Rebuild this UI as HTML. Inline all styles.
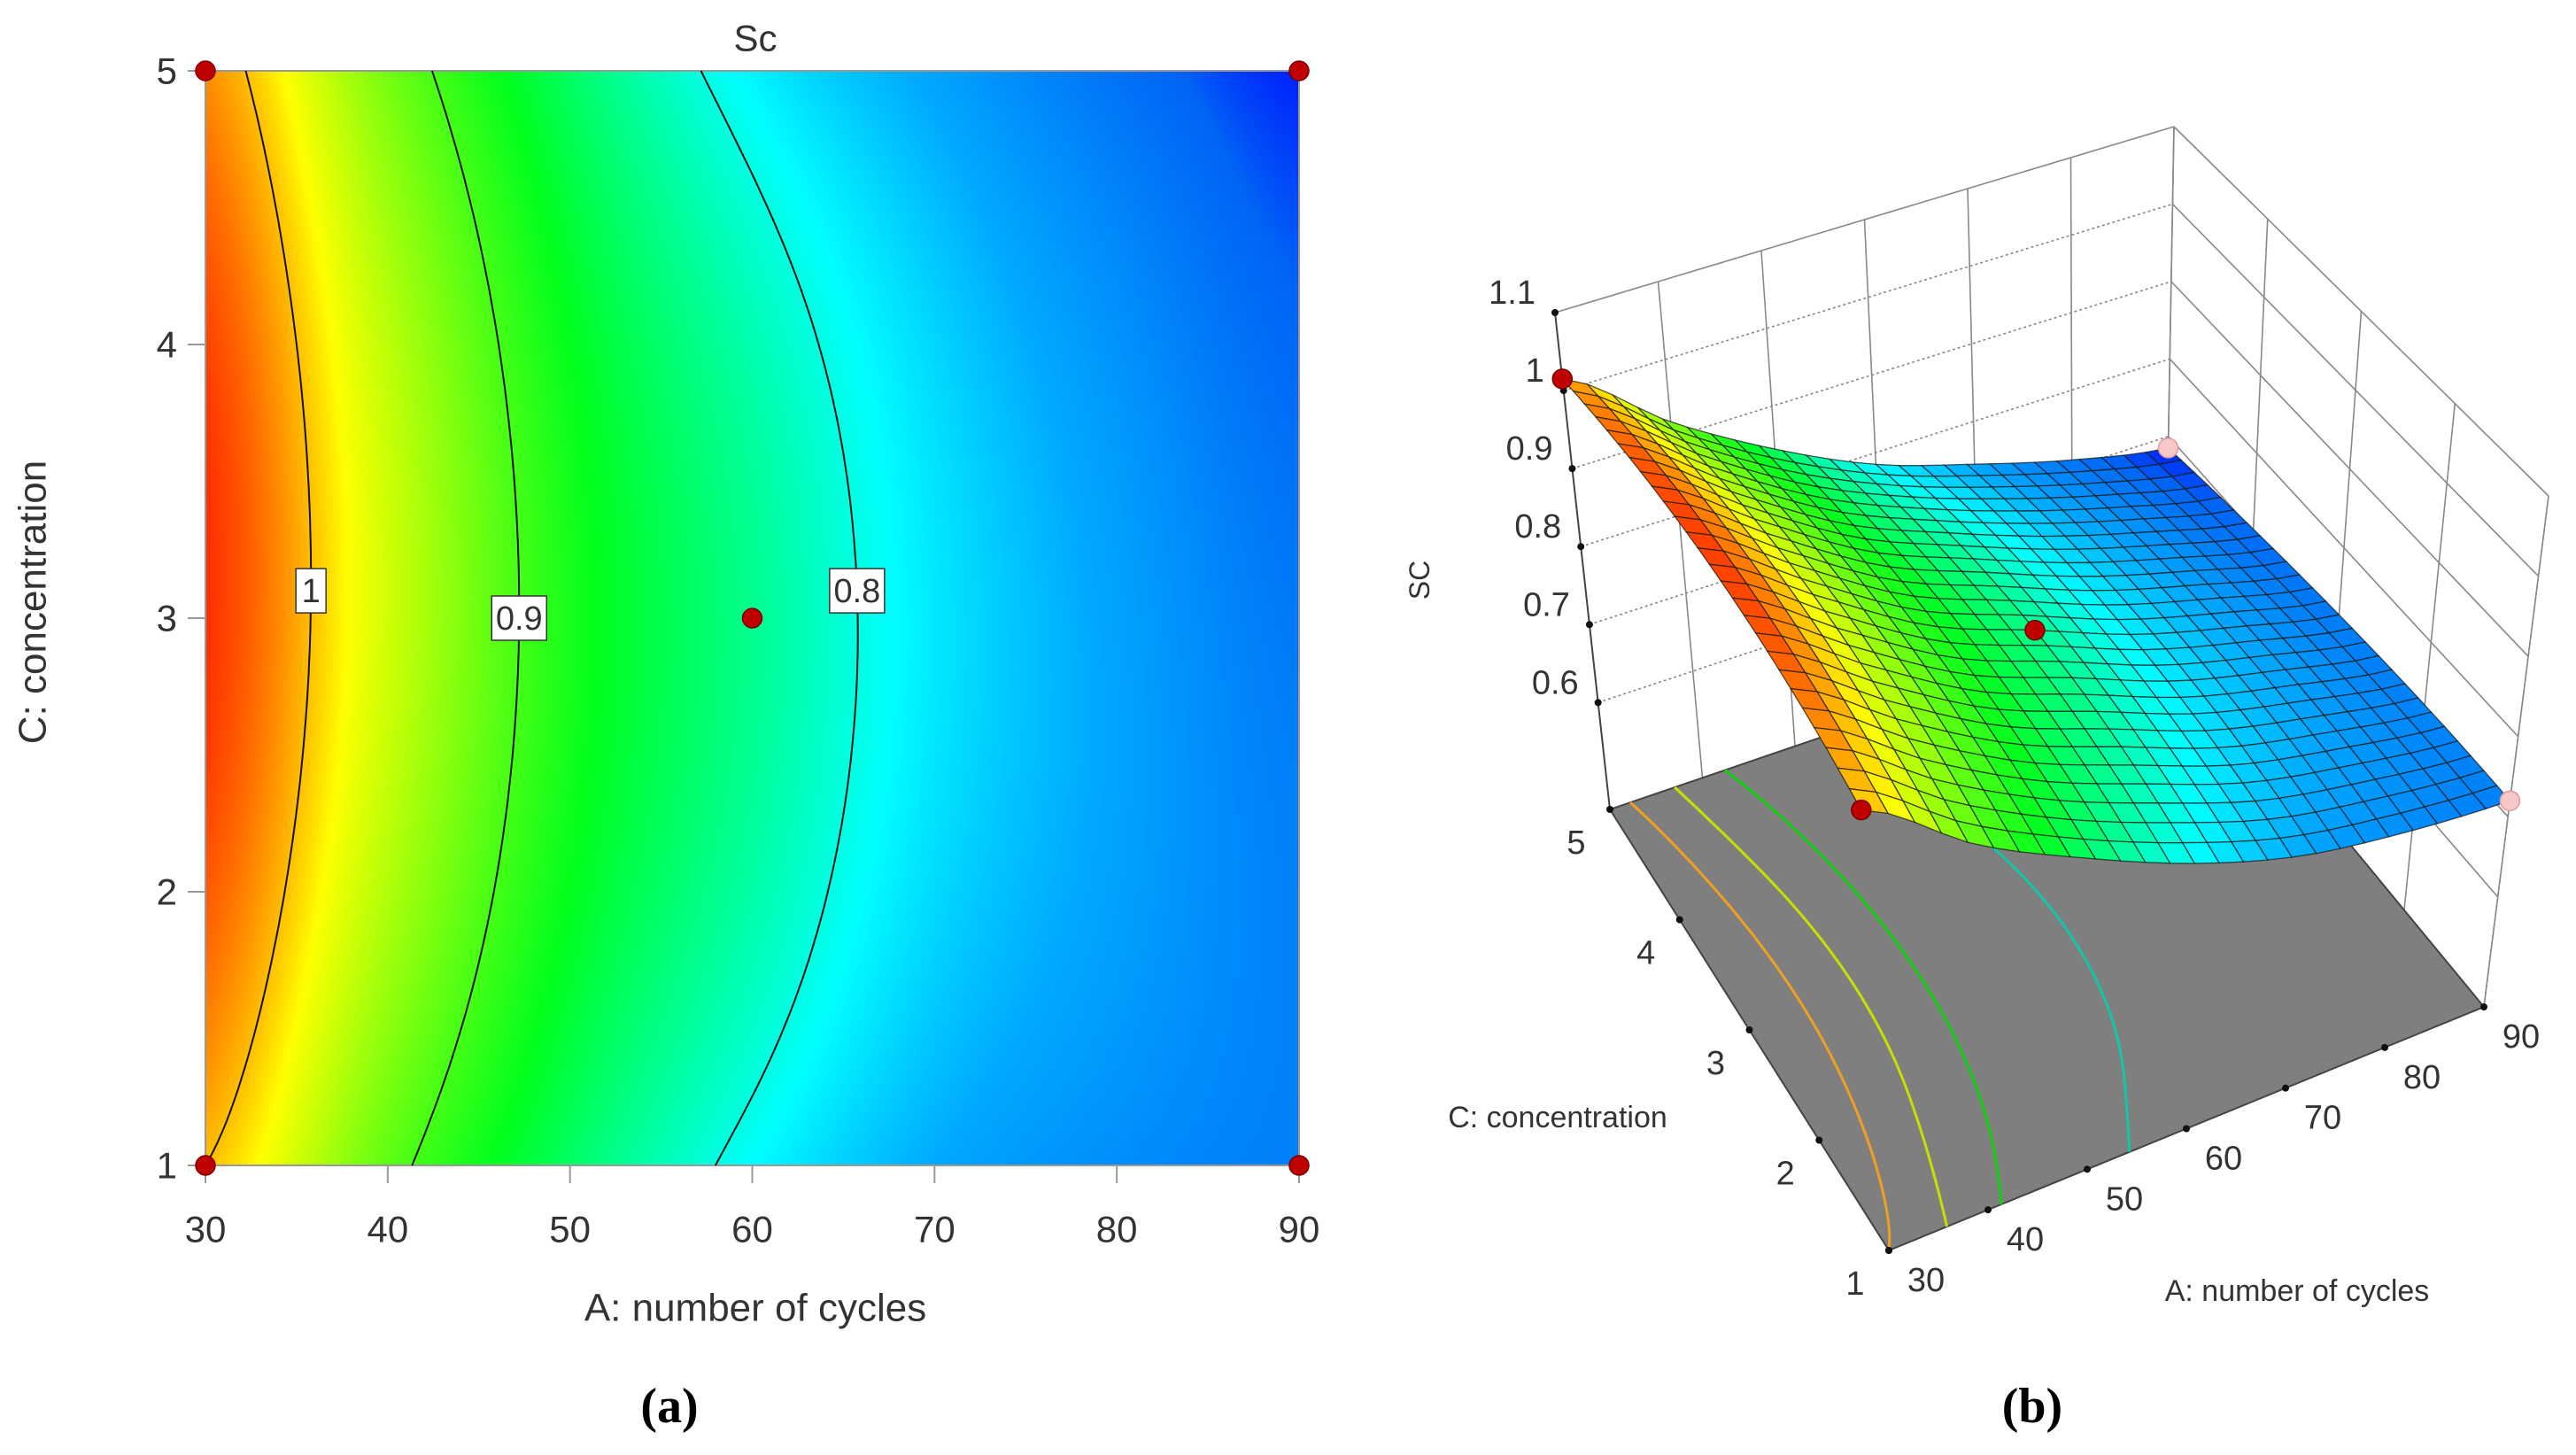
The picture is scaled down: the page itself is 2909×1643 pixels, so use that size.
<!DOCTYPE html>
<html><head><meta charset="utf-8">
<style>
html,body{margin:0;padding:0;background:#fff;}
#wrap{position:relative;width:2909px;height:1643px;overflow:hidden;background:#fff;}
#heat{position:absolute;left:232px;top:80px;width:1235px;height:1236px;}
#svg{position:absolute;left:0;top:0;}
text{font-family:"Liberation Sans",sans-serif;fill:#333;}
</style></head>
<body>
<div id="wrap">
<canvas id="heat" width="309" height="309"></canvas>
<svg id="svg" width="2909" height="1643" xmlns="http://www.w3.org/2000/svg"></svg>
</div>
<script>
// ---- data ----
const aValues = [30, 40, 50, 60, 70, 80, 90];          // A: number of cycles
const cValues = [1, 2, 3, 4, 5];                       // C: concentration
const scRowC1 = [1.00, 0.91, 0.845, 0.79, 0.75, 0.73, 0.72];
const scRowC2 = [1.032, 0.946, 0.871, 0.821, 0.773, 0.744, 0.721];
const scRowC3 = [1.045, 0.96, 0.88, 0.83, 0.78, 0.745, 0.715];
const scRowC4 = [1.039, 0.951, 0.871, 0.818, 0.771, 0.734, 0.703];
const scRowC5 = [1.015, 0.92, 0.845, 0.785, 0.745, 0.71, 0.685];
const contourLevels = [1.0, 0.9, 0.8];
const contourLabels = ["1", "0.9", "0.8"];
const contourLabelC = [3.1, 3.0, 3.1];
const floorLevels = [1.0, 0.95, 0.9, 0.82];
const floorColors = ["#f0a020", "#c8e000", "#10d010", "#10c8a8"];
const designA = [30, 90, 60, 30, 90];
const designC = [5, 5, 3, 1, 1];
const xTicks = [30, 40, 50, 60, 70, 80, 90];
const yTicks = [1, 2, 3, 4, 5];
const zTicks = [0.6, 0.7, 0.8, 0.9, 1, 1.1];
const cTicks3d = [1, 2, 3, 4, 5];

const rows = [scRowC1, scRowC2, scRowC3, scRowC4, scRowC5];
const NS = "http://www.w3.org/2000/svg";
const svg = document.getElementById('svg');

function cr(p, t) { // catmull-rom over array p at fractional index t
  const n = p.length;
  let i = Math.floor(t); if (i >= n - 1) i = n - 2; if (i < 0) i = 0;
  const f = t - i;
  const p0 = p[Math.max(i - 1, 0)], p1 = p[i], p2 = p[i + 1], p3 = p[Math.min(i + 2, n - 1)];
  return 0.5 * ((2 * p1) + (-p0 + p2) * f + (2 * p0 - 5 * p1 + 4 * p2 - p3) * f * f + (-p0 + 3 * p1 - 3 * p2 + p3) * f * f * f);
}
function lagr(xsArr, ysArr, x) {
  let s = 0;
  for (let i = 0; i < xsArr.length; i++) {
    let l = 1;
    for (let j = 0; j < xsArr.length; j++) if (j !== i) l *= (x - xsArr[j]) / (xsArr[i] - xsArr[j]);
    s += l * ysArr[i];
  }
  return s;
}
function val(a, c) {
  const ta = (a - aValues[0]) / (aValues[1] - aValues[0]);
  const col = rows.map(r => cr(r, ta));
  return lagr(cValues, col, c);
}
const stops = [[0.68, [0, 10, 255]], [0.70, [0, 100, 245]], [0.75, [0, 170, 255]], [0.79, [0, 255, 255]], [0.87, [0, 255, 30]], [0.98, [255, 255, 0]], [1.06, [255, 0, 0]]];
function cmap(v) {
  if (v <= stops[0][0]) return stops[0][1];
  for (let i = 1; i < stops.length; i++) {
    if (v <= stops[i][0]) {
      const t = (v - stops[i - 1][0]) / (stops[i][0] - stops[i - 1][0]);
      return stops[i - 1][1].map((x, k) => Math.round(x + (stops[i][1][k] - x) * t));
    }
  }
  return stops[stops.length - 1][1];
}
function el(tag, attrs, parent) {
  const e = document.createElementNS(NS, tag);
  for (const k in attrs) e.setAttribute(k, attrs[k]);
  (parent || svg).appendChild(e);
  return e;
}
function txt(s, x, y, size, anchor, parent, extra) {
  const t = el('text', Object.assign({ x: x, y: y, 'font-size': size, 'text-anchor': anchor || 'middle', 'dominant-baseline': 'central' }, extra || {}), parent);
  t.textContent = s; return t;
}

// ---- 2D contour plot ----
const PL = 232, PR = 1467, PT = 80, PB = 1316;
const xs = a => PL + (a - 30) / 60 * (PR - PL);
const ys = c => PB - (c - 1) / 4 * (PB - PT);
(function heat() {
  const cv = document.getElementById('heat'), ctx = cv.getContext('2d');
  const W = cv.width, H = cv.height, img = ctx.createImageData(W, H);
  for (let j = 0; j < H; j++) for (let i = 0; i < W; i++) {
    const a = 30 + (i + 0.5) / W * 60, c = 5 - (j + 0.5) / H * 4;
    const col = cmap(val(a, c)), o = (j * W + i) * 4;
    img.data[o] = col[0]; img.data[o + 1] = col[1]; img.data[o + 2] = col[2]; img.data[o + 3] = 255;
  }
  ctx.putImageData(img, 0, 0);
})();
const g2 = el('g', {});


el('rect', { x: PL, y: PT, width: PR - PL, height: PB - PT, fill: 'none', stroke: '#999', 'stroke-width': 2 }, g2);
function findA(level, c) {
  let lo = 30, hi = 90, flo = val(lo, c) - level, fhi = val(hi, c) - level;
  if (flo * fhi > 0) return null;
  for (let k = 0; k < 40; k++) { const m = (lo + hi) / 2, fm = val(m, c) - level; if (fm * flo > 0) { lo = m; flo = fm; } else hi = m; }
  return (lo + hi) / 2;
}
contourLevels.forEach((L, idx) => {
  let pts = [];
  for (let c = 1; c <= 5.0001; c += 0.04) { const a = findA(L, c); if (a !== null) pts.push(xs(a).toFixed(1) + ',' + ys(c).toFixed(1)); }
  const pl = el('polyline', { points: pts.join(' '), fill: 'none', stroke: '#111', 'stroke-width': 2 }, g2);
  
  
  const cc = contourLabelC[idx], aa = findA(L, cc);
  if (aa !== null) {
    const w = contourLabels[idx].length > 1 ? 62 : 34;
    const bx = el('rect', { x: xs(aa) - w / 2, y: ys(cc) - 25, width: w, height: 50, fill: '#fff', stroke: '#333', 'stroke-width': 1.5 }, g2);
    
    
    const t = txt(contourLabels[idx], xs(aa), ys(cc) + 1, 38, 'middle', g2);
    
    
  }
});
xTicks.forEach(a => {
  el('line', { x1: xs(a), x2: xs(a), y1: PB, y2: PB + 20, stroke: '#999', 'stroke-width': 2 }, g2);
  const t = txt(String(a), xs(a), 1388, 42, 'middle', g2);
  
  
});
yTicks.forEach(c => {
  el('line', { x1: PL - 20, x2: PL, y1: ys(c), y2: ys(c), stroke: '#999', 'stroke-width': 2 }, g2);
  const t = txt(String(c), 200, ys(c), 42, 'end', g2);
  
  
});
designA.forEach((a, i) => {
  const d = el('circle', { cx: xs(a), cy: ys(designC[i]), r: 11, fill: '#c00000', stroke: '#700', 'stroke-width': 1.5 }, g2);
  
  
});
let t2;
t2 = txt('Sc', 853, 43, 42, 'middle', g2);  
t2 = txt('A: number of cycles', 853, 1477, 44, 'middle', g2);  
t2 = txt('C: concentration', 37, 680, 44, 'middle', g2, { transform: 'rotate(-90 37 680)' });  
t2 = txt('(a)', 756, 1588, 56, 'middle', svg, { 'font-weight': 'bold' });
t2.style.fontFamily = '"Liberation Serif",serif'; t2.style.fill = '#000';
 

// ---- 3D surface ----
const ZF = 0.463, ZT = 1.1;
const floorL = [1818, 914], floorF = [2133, 1412], floorR = [2805, 1137], floorB = [2445, 700];
const topL = [1756, 353], topF = [2096, 822], topR = [2878, 560], topB = [2455, 143];
function bil(P00, P10, P01, P11, u, v) {
  return [0, 1].map(k => (1 - u) * (1 - v) * P00[k] + u * (1 - v) * P10[k] + (1 - u) * v * P01[k] + u * v * P11[k]);
}
function proj(a, c, z) {
  const u = (a - 30) / 60, v = (5 - c) / 4, t = (z - ZF) / (ZT - ZF);
  const f = bil(floorL, floorB, floorF, floorR, u, v), tp = bil(topL, topB, topF, topR, u, v);
  return [f[0] + (tp[0] - f[0]) * t, f[1] + (tp[1] - f[1]) * t];
}
const P = p => p[0].toFixed(1) + ',' + p[1].toFixed(1);
const g3 = el('g', {});


const gridStroke = { stroke: '#888', 'stroke-width': 1.6, fill: 'none' };
xTicks.forEach(a => { if (a > 30) el('line', Object.assign({ x1: proj(a, 5, ZF)[0], y1: proj(a, 5, ZF)[1], x2: proj(a, 5, ZT)[0], y2: proj(a, 5, ZT)[1] }, gridStroke), g3); });
zTicks.forEach(z => { const p1 = proj(30, 5, z), p2 = proj(90, 5, z); el('line', Object.assign({ x1: p1[0], y1: p1[1], x2: p2[0], y2: p2[1], 'stroke-dasharray': z === 1.1 ? '' : '3,3' }, gridStroke), g3); });
cTicks3d.forEach(c => { if (c < 5) el('line', Object.assign({ x1: proj(90, c, ZF)[0], y1: proj(90, c, ZF)[1], x2: proj(90, c, ZT)[0], y2: proj(90, c, ZT)[1] }, gridStroke), g3); });
zTicks.forEach(z => { const p1 = proj(90, 5, z), p2 = proj(90, 1, z); el('line', Object.assign({ x1: p1[0], y1: p1[1], x2: p2[0], y2: p2[1] }, gridStroke), g3); });
el('line', Object.assign({ x1: proj(90, 5, ZF)[0], y1: proj(90, 5, ZF)[1], x2: proj(90, 5, ZT)[0], y2: proj(90, 5, ZT)[1] }, gridStroke), g3);
el('line', Object.assign({ x1: proj(90, 1, ZF)[0], y1: proj(90, 1, ZF)[1], x2: proj(90, 1, ZT)[0], y2: proj(90, 1, ZT)[1], 'stroke-dasharray': '4,3' }, gridStroke), g3);
const floor = el('polygon', { points: [proj(30, 5, ZF), proj(30, 1, ZF), proj(90, 1, ZF), proj(90, 5, ZF)].map(P).join(' '), fill: '#7f7f7f', stroke: '#444', 'stroke-width': 2 }, g3);


floorLevels.forEach((L, i) => {
  let pts = [];
  for (let c = 1; c <= 5.0001; c += 0.05) { const a = findA(L, c); if (a !== null) pts.push(P(proj(a, c, ZF))); }
  const pl = el('polyline', { points: pts.join(' '), fill: 'none', stroke: floorColors[i], 'stroke-width': 3 }, g3);
  
  
});
el('line', { x1: proj(30, 5, ZF)[0], y1: proj(30, 5, ZF)[1], x2: proj(30, 5, ZT)[0], y2: proj(30, 5, ZT)[1], stroke: '#444', 'stroke-width': 2 }, g3);
zTicks.forEach(z => {
  const p = proj(30, 5, z);
  el('circle', { cx: p[0], cy: p[1], r: 4, fill: '#111' }, g3);
  const t = txt(String(z), p[0] - 22, p[1] - 22, 38, 'end', g3);
  
  
});
cTicks3d.forEach(c => {
  const p = proj(30, c, ZF);
  el('circle', { cx: p[0], cy: p[1], r: 4, fill: '#111' }, g3);
  const t = txt(String(c), p[0] - 38, p[1] + 38, 38, 'middle', g3);
  
  
});
xTicks.forEach(a => {
  const p = proj(a, 1, ZF);
  el('circle', { cx: p[0], cy: p[1], r: 4, fill: '#111' }, g3);
  const t = txt(String(a), p[0] + 42, p[1] + 34, 38, 'middle', g3);
  
  
});
const N = 26, quads = [];
for (let i = 0; i < N; i++) for (let j = 0; j < N; j++) {
  const a0 = 30 + 60 * i / N, a1 = 30 + 60 * (i + 1) / N, c0 = 5 - 4 * j / N, c1 = 5 - 4 * (j + 1) / N;
  const am = (a0 + a1) / 2, cm = (c0 + c1) / 2;
  quads.push({ depth: ((5 - cm) / 4) - (am - 30) / 60, a0, a1, c0, c1, v: val(am, cm) });
}
quads.sort((p, q) => p.depth - q.depth);
const gs = el('g', {}, g3);


quads.forEach(q => {
  const pts = [[q.a0, q.c0], [q.a1, q.c0], [q.a1, q.c1], [q.a0, q.c1]].map(ac => P(proj(ac[0], ac[1], val(ac[0], ac[1])))).join(' ');
  const col = cmap(q.v);
  el('polygon', { points: pts, fill: 'rgb(' + col.join(',') + ')', stroke: '#1a1a1a', 'stroke-width': 1.3, 'stroke-opacity': 0.75 }, gs);
});
designA.forEach((a, i) => {
  const c = designC[i], p = proj(a, c, val(a, c));
  const d = el('circle', { cx: p[0], cy: p[1], r: 11, fill: a === 90 ? '#f8c8c8' : '#c00000', stroke: a === 90 ? '#d99' : '#700', 'stroke-width': 1.5 }, g3);
  
  
});
let t3;
t3 = txt('SC', 1603, 655, 32, 'middle', g3, { transform: 'rotate(-90 1603 655)' });  
t3 = txt('C: concentration', 1759, 1262, 34, 'middle', g3);  
t3 = txt('A: number of cycles', 2594, 1458, 34, 'middle', g3);  
t3 = txt('(b)', 2295, 1588, 56, 'middle', svg, { 'font-weight': 'bold' });
t3.style.fontFamily = '"Liberation Serif",serif'; t3.style.fill = '#000';
 
</script>
</body></html>
